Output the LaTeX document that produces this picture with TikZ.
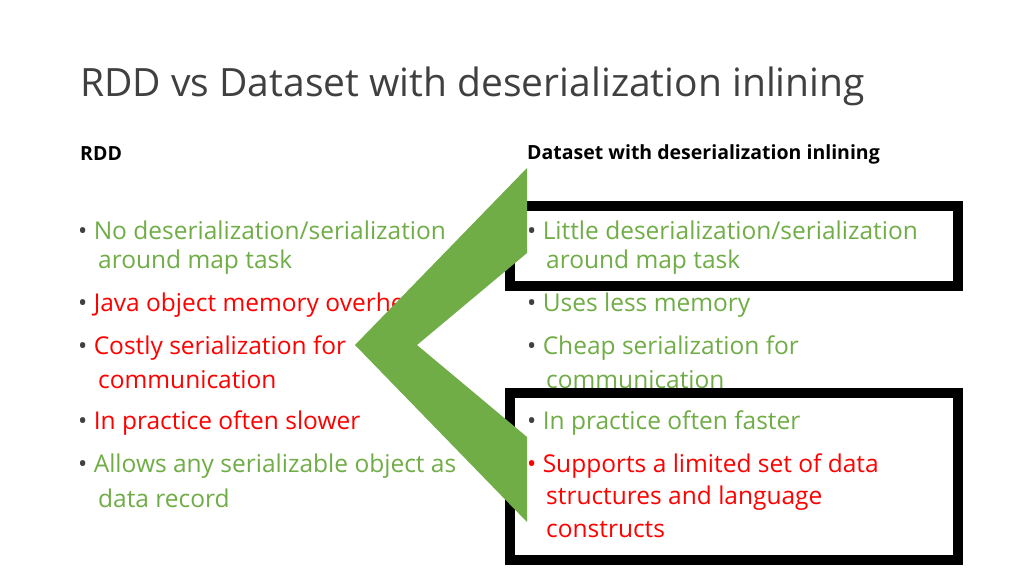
\documentclass[tikz,border=0pt]{standalone}
\usepackage{fontspec}
\setmainfont{Open Sans}
\usepackage{xcolor}
\definecolor{okgreen}{HTML}{70AD47}
\definecolor{badred}{HTML}{FF0000}
\tikzset{item/.style={anchor=west, inner sep=0, font=\fontsize{24.5}{30}\selectfont}}
\tikzset{head/.style={anchor=west, inner sep=0, font=\fontsize{19.5}{24}\selectfont\bfseries}}
\tikzset{frame/.style={draw=black, line width=10pt}}
\begin{document}
\begin{tikzpicture}[x=1pt,y=-1pt]
  \useasboundingbox[fill=white] (0,0) rectangle (1024,576);
  \node[anchor=west, inner sep=0, font=\fontsize{39}{48}\selectfont, text=black!75] (title) at (80,86) {RDD vs Dataset with deserialization inlining};

  \node[head] (rdd) at (80,154) {RDD};
  \node[head] (ds) at (527,154) {Dataset with deserialization inlining};

  % left column
  \node[item, text=okgreen] (l1) at (78,230) {\textcolor{black!75}{\textbullet}\ No deserialization/serialization};
  \node[item, text=okgreen] (l1b) at (98,262) {around map task};
  \node[item, text=badred] (l2) at (78,305) {\textcolor{black!75}{\textbullet}\ Java object memory overhead};
  \node[item, text=badred] (l3) at (78,348) {\textcolor{black!75}{\textbullet}\ Costly serialization for};
  \node[item, text=badred] (l3b) at (98,380) {communication};
  \node[item, text=badred] (l4) at (78,423) {\textcolor{black!75}{\textbullet}\ In practice often slower};
  \node[item, text=okgreen] (l5) at (78,466) {\textcolor{black!75}{\textbullet}\ Allows any serializable object as};
  \node[item, text=okgreen] (l5b) at (98,498) {data record};

  % right column
  \node[item, text=okgreen] (r1) at (527,230) {\textcolor{black!75}{\textbullet}\ Little deserialization/serialization};
  \node[item, text=okgreen] (r1b) at (546,262) {around map task};
  \node[item, text=okgreen] (r2) at (527,305) {\textcolor{black!75}{\textbullet}\ Uses less memory};
  \node[item, text=okgreen] (r3) at (527,348) {\textcolor{black!75}{\textbullet}\ Cheap serialization for};
  \node[item, text=okgreen] (r3b) at (546,380) {communication};
  \node[item, text=okgreen] (r4) at (527,423) {\textcolor{black!75}{\textbullet}\ In practice often faster};
  \node[item, text=badred] (r5) at (527,466) {\textbullet\ Supports a limited set of data};
  \node[item, text=badred] (r5b) at (546,498) {structures and language};
  \node[item, text=badred] (r5c) at (546,530) {constructs};

  % boxes
  \draw[frame] (510,206) rectangle (958,286);
  \draw[frame] (510,393) rectangle (958,560);

  % chevron
  \fill[okgreen] (527,168) -- (355,345) -- (527,522) -- (527,437) -- (417,345) -- (527,253) -- cycle;
\end{tikzpicture}
\end{document}
